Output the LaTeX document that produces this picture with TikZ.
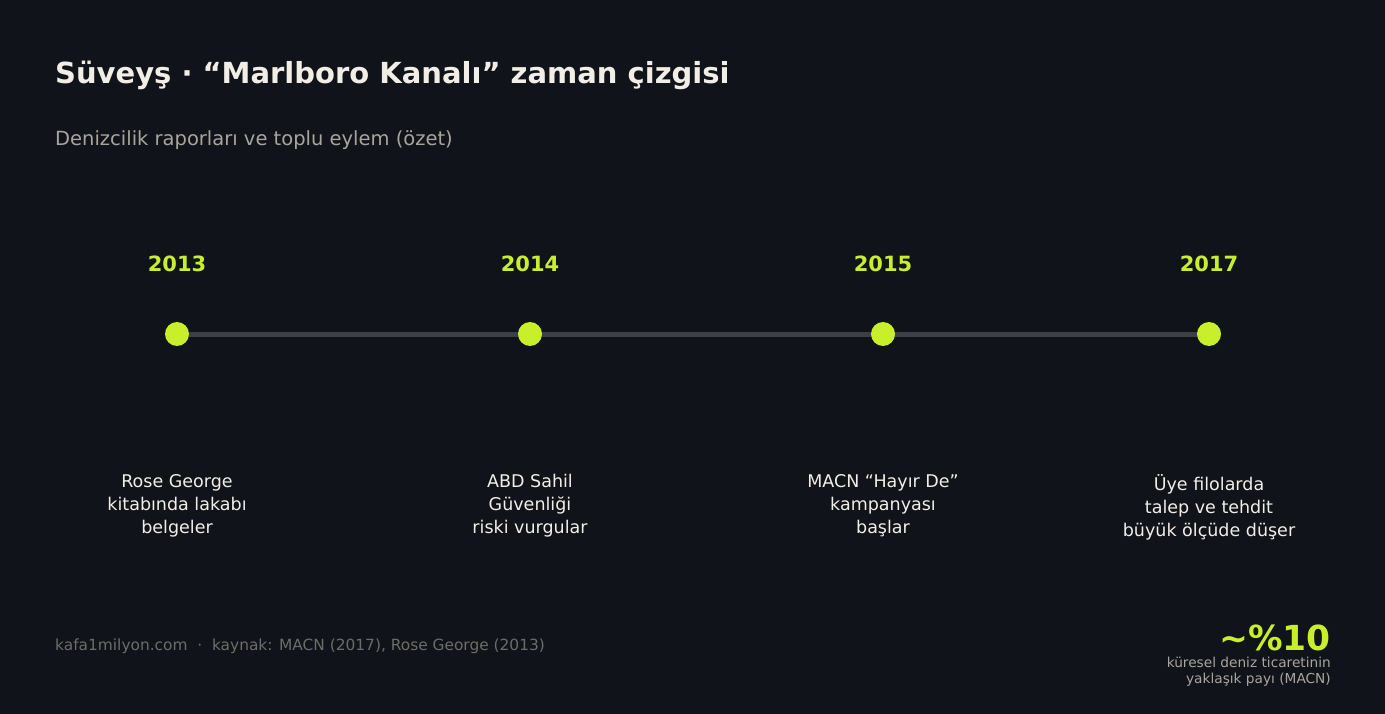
\documentclass[tikz,border=0pt]{standalone}
\usepackage{fontspec}
\setmainfont{DejaVu Sans}
\usetikzlibrary{positioning}
\definecolor{bgdark}{HTML}{10131A}
\definecolor{lime}{HTML}{C8F02A}
\definecolor{railgray}{HTML}{3C3F48}
\definecolor{softwhite}{HTML}{F2EEE6}
\definecolor{subgray}{HTML}{A9A59D}
\definecolor{footgray}{HTML}{6E6C66}
\pgfdeclarelayer{back}
\pgfdeclarelayer{rail}
\pgfsetlayers{back,rail,main}
\tikzset{%
	year label/.style={
		anchor=base,
		text=lime,
		font=\bfseries\fontsize{21}{25}\selectfont
	},
	event dot/.style={
		circle,
		fill=lime,
		inner sep=0pt,
		minimum size=24pt
	},
	event text/.style={
		anchor=north,
		align=center,
		inner sep=0pt,
		text=softwhite,
		font=\fontsize{17.5}{23}\selectfont
	},
}

\begin{document}
\begin{tikzpicture}[x=1pt,y=-1pt]
			% Background
			\begin{pgfonlayer}{back}
			\fill[bgdark] (0,0) rectangle (1385,714);
			\end{pgfonlayer}
			\useasboundingbox (0,0) rectangle (1385,714);
			
			% Title and subtitle
			\node[anchor=base west, inner sep=0pt, text=softwhite, font=\bfseries\fontsize{29}{34}\selectfont] (title) at (55,84) {Süveyş · “Marlboro Kanalı” zaman çizgisi};
			\node[anchor=base west, inner sep=0pt, text=subgray, font=\fontsize{19.5}{23}\selectfont] (subtitle) at (55,146) {Denizcilik raporları ve toplu eylem (özet)};
			
			% Dots and the rail behind them
			\node[event dot] (d2013) at (177,334) {};
			\node[event dot] (d2014) at (530,334) {};
			\node[event dot] (d2015) at (883,334) {};
			\node[event dot] (d2017) at (1209,334) {};
			\begin{pgfonlayer}{rail}
			\draw[railgray, line width=5pt] (d2013.center) -- (d2017.center);
			\end{pgfonlayer}
			
			% Years
			\node[year label] (y2013) at (177,272) {2013};
			\node[year label] (y2014) at (530,272) {2014};
			\node[year label] (y2015) at (883,272) {2015};
			\node[year label] (y2017) at (1209,272) {2017};
			
			% Event texts
			\node[event text] (t2013) at (177,474) {Rose George\\kitabında lakabı\\belgeler};
			\node[event text] (t2014) at (530,474) {ABD Sahil\\Güvenliği\\riski vurgular};
			\node[event text] (t2015) at (883,474) {MACN “Hayır De”\\kampanyası\\başlar};
			\node[event text] (t2017) at (1209,474) {Üye filolarda\\talep ve tehdit\\büyük ölçüde düşer};
			
			% Footer
			\node[anchor=base west, inner sep=0pt, text=footgray, font=\fontsize{15.4}{18}\selectfont] (source) at (55,650) {kafa1milyon.com \ · \ kaynak: MACN (2017), Rose George (2013)};
			\node[anchor=base east, inner sep=0pt, text=lime, font=\bfseries\fontsize{34.5}{40}\selectfont] (share) at (1331,650) {\char"223C\%10};
			\node[anchor=north east, align=right, inner sep=0pt, text=subgray, font=\fontsize{13.7}{16}\selectfont] (sharenote) at (1331,657) {küresel deniz ticaretinin\\yaklaşık payı (MACN)};
		\end{tikzpicture}
\end{document}
